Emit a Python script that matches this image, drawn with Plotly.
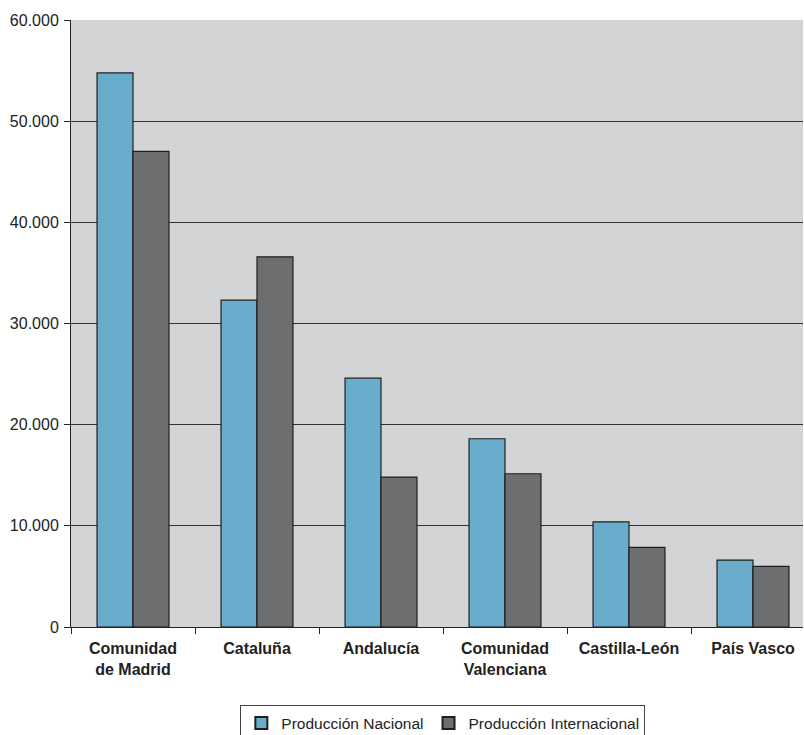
import plotly.graph_objects as go

# Regional production figures
regiones = [
    "Comunidad<br>de Madrid",
    "Cataluña",
    "Andalucía",
    "Comunidad<br>Valenciana",
    "Castilla-León",
    "País Vasco",
]
produccion_nacional = [54770, 32310, 24600, 18610, 10400, 6620]
produccion_internacional = [47010, 36590, 14820, 15150, 7880, 6000]

y_ticks = [0, 10000, 20000, 30000, 40000, 50000, 60000]

COLOR_NAC = "#6aaccb"
COLOR_INT = "#6d6e70"
OUTLINE = "#1f1f1f"
FONT = "Liberation Sans, Arial, sans-serif"

fig = go.Figure()
fig.add_trace(go.Bar(
    name="Producción Nacional",
    x=regiones, y=produccion_nacional,
    marker=dict(color=COLOR_NAC, line=dict(color=OUTLINE, width=1.2)),
))
fig.add_trace(go.Bar(
    name="Producción Internacional",
    x=regiones, y=produccion_internacional,
    marker=dict(color=COLOR_INT, line=dict(color=OUTLINE, width=1.2)),
))

W, H = 804, 735
left, right, top, bottom = 71, 1, 20, 108
plot_w = W - left - right

fig.update_layout(
    width=W, height=H,
    margin=dict(l=left, r=right, t=top, b=bottom, pad=0, autoexpand=False),
    paper_bgcolor="white",
    plot_bgcolor="#d3d4d6",
    separators=",.",
    barmode="group",
    bargap=0.42,
    bargroupgap=0,
    font=dict(family=FONT, size=15, color="#222222"),
    showlegend=True,
    legend=dict(
        orientation="h",
        x=0.508, xanchor="center",
        y=-0.129, yanchor="top",
        bordercolor="#444444", borderwidth=1,
        bgcolor="white",
        font=dict(family=FONT, size=15.5, color="#222222"),
        itemsizing="constant",
        tracegroupgap=0,
    ),
)

fig.update_xaxes(
    type="category",
    range=[-0.5, -0.5 + plot_w / 124.0],
    tickson="boundaries",
    tickangle=0,
    ticks="outside", ticklen=6, tickcolor="#222222", tickwidth=1,
    showline=True, linecolor="#222222", linewidth=1,
    showgrid=False,
    tickfont=dict(family=FONT, size=16, color="#222222", weight="bold"),
    ticklabelstandoff=7,
)

fig.update_yaxes(
    range=[0, 60000],
    tickvals=y_ticks,
    tickformat=",d",
    ticks="outside", ticklen=6, tickcolor="#222222", tickwidth=1,
    showline=True, linecolor="#222222", linewidth=1,
    showgrid=True, gridcolor="#333333", gridwidth=1,
    zeroline=False,
    tickfont=dict(family=FONT, size=16, color="#222222"),
    ticklabelstandoff=2,
)

fig.write_html("out.html")
